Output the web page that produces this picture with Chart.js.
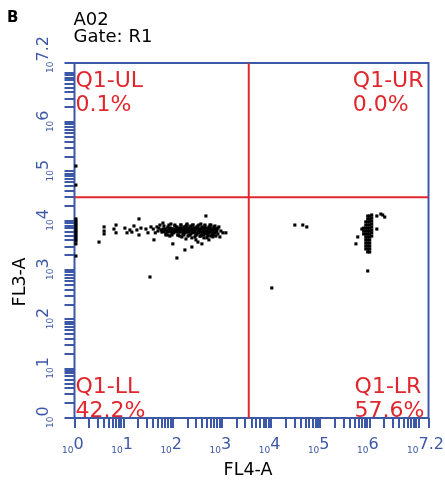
<!DOCTYPE html>
<html>
<head>
<meta charset="utf-8">
<script src="https://cdn.jsdelivr.net/npm/chart.js@4.4.0/dist/chart.umd.min.js"></script>
<style>
  html, body { margin: 0; padding: 0; background: #fff; }
</style>
</head>
<body>
<canvas id="myChart" width="445" height="481"></canvas>
<script>
// labels
const panelLetter = 'B';
const sampleName = 'A02';
const gateName = 'Gate: R1';
const xTitle = 'FL4-A';
const yTitle = 'FL3-A';

// quadrant gate (FL4-A, FL3-A)
const gateX = 3500;
const gateY = 30000;
const quadNames = ['Q1-UL', 'Q1-UR', 'Q1-LL', 'Q1-LR'];
const quadPercents = ['0.1%', '0.0%', '42.2%', '57.6%'];

// axis range and decade labels (10^n)
const axisMin = 1;
const axisMax = Math.pow(10, 7.2);
const decadeLabels = ['0', '1', '2', '3', '4', '5', '6', '7.2'];
const minorSteps = [1, 2, 3, 4, 5, 6, 7, 8, 9];

// events piled on the FL4-A axis
const pileX = [1.07, 1.07, 1.07, 1.07, 1.07, 1.07, 1.07, 1.07,
               1.07, 1.07, 1.07, 1.07, 1.07, 1.07, 1.07, 1.07];
const pileY = [129000, 53000, 10900, 9900, 9000, 8200, 7500, 6800,
               6200, 5700, 5150, 4700, 4280, 3900, 3400, 1930];

// FL4-A low population
const lowX = [
  3.15, 4.0, 4.0, 4.0, 6.35, 7.0, 7.0, 10.6, 11.7, 13.4,
  14.7, 16.2, 18.6, 20.5, 22.5, 20.5, 28.4, 31.2, 35.9, 34.3,
  41.3, 47.5, 49.8, 54.7, 60, 63, 69, 72.4, 79.4, 83.3,
  87, 91.5, 96, 100, 105, 110, 116, 121, 127, 133,
  139, 146, 153, 160, 168, 176, 176, 185, 194, 203,
  212, 223, 233, 244, 244, 256, 268, 281, 295, 309,
  324, 324, 339, 355, 372, 390, 390, 409, 429, 449,
  471, 471, 493, 517, 542, 568, 594, 623, 653, 684,
  718, 752, 826, 865, 906, 950, 1043, 1200,
  96, 110, 121, 127, 139, 146, 160, 168, 185, 194,
  203, 212, 223, 233, 256, 268, 281, 295, 309, 339,
  355, 372, 390, 409, 429, 449, 471, 493, 517, 542,
  568, 594, 623, 653, 718, 752, 787, 826, 244, 185,
  295, 542, 40, 44, 52, 58, 66, 75, 80, 90,
  63, 72.4, 83.3, 96, 110, 127, 146, 168, 194, 223,
  256, 295, 339, 390, 449, 517, 594, 684, 787,
  72.4, 96, 127, 168, 223, 295, 390, 517, 684,
  83.3, 110, 146, 194, 256, 339, 449, 594,
  66, 79, 91, 105, 121, 139, 160, 185, 212, 244,
  281, 324, 372, 429, 493, 568, 653, 752
];
const lowY = [
  3700, 7500, 6200, 5400, 6800, 8200, 5700, 7100, 5700, 6500,
  5900, 7850, 6500, 10900, 7100, 5150, 6800, 5700, 7500, 724,
  4100, 7500, 6200, 8200, 5900, 9000, 6800, 5400, 7500, 6200,
  4900, 8600, 6800, 3400, 5700, 7850, 6500, 1760, 5150, 7100,
  5900, 8200, 4700, 6500, 7500, 5700, 2560, 6800, 8600, 4900,
  6200, 7500, 5400, 6800, 2940, 8200, 5900, 4700, 7100, 5400,
  7850, 3700, 6500, 4900, 8600, 5900, 3400, 7100, 5150, 7850,
  12500, 6200, 4500, 6800, 5700, 8200, 4900, 6500, 4700, 7500,
  5700, 6800, 5400, 7500, 4700, 6200, 5700, 5700,
  5700, 6200, 7500, 6500, 4900, 7100, 5400, 6500, 7850, 5900,
  7100, 5150, 6500, 7850, 5700, 7100, 6200, 5150, 7500, 5700,
  6800, 4900, 7500, 6200, 4500, 5700, 7100, 5400, 4900, 7500,
  6200, 7100, 5400, 6500, 7850, 4900, 6200, 7100, 4500, 4280,
  4100, 4100, 6800, 5700, 7100, 6500, 7850, 6200, 5150, 7100,
  6800, 6800, 6800, 6800, 6800, 6800, 6800, 6800, 6800, 6800,
  6800, 6800, 6800, 6800, 6800, 6800, 6800, 6800, 6800,
  5150, 5150, 5150, 5150, 5150, 5150, 5150, 5150, 5150,
  8200, 8200, 8200, 8200, 8200, 8200, 8200, 8200,
  6000, 6000, 6000, 6000, 6000, 6000, 6000, 6000, 6000, 6000,
  6000, 6000, 6000, 6000, 6000, 6000, 6000, 6000
];

// FL4-A high population
const highX = [
  920000, 920000, 920000, 920000, 920000, 920000, 920000, 920000, 920000, 920000, 920000, 920000, 920000,
  1010000, 1010000, 1010000, 1010000, 1010000, 1010000, 1010000, 1010000, 1010000, 1010000, 1010000, 1010000, 1010000,
  840000, 840000, 840000, 840000, 840000, 840000, 840000, 840000, 840000, 840000,
  1110000, 1110000, 1110000, 1110000, 1110000, 1110000, 1110000, 1110000,
  760000, 760000, 760000, 700000,
  1410000, 1700000, 1860000, 2040000,
  1410000, 577000, 530000, 920000,
  30300, 44000, 53000, 10300
];
const highY = [
  12500, 10900, 9500, 8200, 7100, 6200, 5400, 4700, 4100, 3550, 3080, 2680, 2330,
  12500, 10900, 9500, 8200, 7100, 6200, 5400, 4700, 4100, 3550, 3080, 2680, 2330,
  9500, 8200, 7100, 6200, 5400, 4700, 4100, 3550, 3080, 2680,
  13100, 11400, 9900, 8600, 7500, 6500, 5700, 4900,
  7100, 6200, 5400, 6800,
  12500, 13700, 13100, 11900,
  6800, 4700, 3400, 960,
  8200, 8200, 7500, 434
];

const blue = '#3d58a6';
const red = '#e1262d';
const fontFam = '"DejaVu Sans", sans-serif';

const toPts = (xs, ys) => xs.map((v, i) => ({x: v, y: ys[i]}));
const events = toPts(pileX, pileY).concat(toPts(lowX, lowY), toPts(highX, highY));

// tick marks: every 1..9 x 10^n, plus the top end
const tickValues = [];
for (let n = 0; n <= 7; n++) {
  minorSteps.forEach(k => {
    const v = k * Math.pow(10, n);
    if (v <= axisMax) tickValues.push(v);
  });
}
tickValues.push(axisMax);

function setTicks(scale) {
  scale.ticks = tickValues.map(v => ({value: v}));
}

const tickGrid = {
  drawOnChartArea: false,
  drawTicks: true,
  tickLength: 10,
  color: blue,
  lineWidth: 2
};

const fcsDecor = {
  id: 'fcsDecor',
  beforeDatasetsDraw(chart) {
    const {ctx, chartArea: a} = chart;
    ctx.save();
    ctx.strokeStyle = blue;
    ctx.lineWidth = 2;
    ctx.strokeRect(a.left, a.top, a.right - a.left, a.bottom - a.top);
    ctx.restore();
  },
  afterDatasetsDraw(chart) {
    const {ctx, chartArea: a, scales} = chart;
    const W = chart.width;
    ctx.save();
    ctx.textBaseline = 'alphabetic';

    // decade labels
    ctx.fillStyle = blue;
    decadeLabels.forEach(e => {
      const v = Math.pow(10, parseFloat(e));
      const px = scales.x.getPixelForValue(v);
      ctx.font = '16px ' + fontFam;
      const we = ctx.measureText(e).width;
      const bx = Math.min(px - 1, W - 1 - we);
      ctx.textAlign = 'left';
      ctx.fillText(e, bx, a.bottom + 31);
      ctx.font = '9px ' + fontFam;
      ctx.textAlign = 'right';
      ctx.fillText('10', bx, a.bottom + 35);

      const py = scales.y.getPixelForValue(v);
      ctx.save();
      ctx.translate(a.left, py);
      ctx.rotate(-Math.PI / 2);
      ctx.font = '16px ' + fontFam;
      ctx.textAlign = 'left';
      ctx.fillText(e, 1.5, -27);
      ctx.font = '9px ' + fontFam;
      ctx.textAlign = 'right';
      ctx.fillText('10', 1.5, -22);
      ctx.restore();
    });

    // quadrant stats
    ctx.fillStyle = red;
    ctx.font = '22px ' + fontFam;
    ctx.textAlign = 'left';
    const blockW = i => Math.max(ctx.measureText(quadNames[i]).width, ctx.measureText(quadPercents[i]).width);
    const spots = [
      [a.left + 1, a.top + 23.5],
      [a.right - 5 - blockW(1), a.top + 23.5],
      [a.left + 1, a.bottom - 25],
      [a.right - 4 - blockW(3), a.bottom - 25]
    ];
    spots.forEach((s, i) => {
      ctx.fillText(quadNames[i], s[0], s[1]);
      ctx.fillText(quadPercents[i], s[0], s[1] + 24);
    });

    // titles
    ctx.fillStyle = '#000';
    ctx.font = 'bold 15px ' + fontFam;
    ctx.fillText(panelLetter, 7, 22);
    ctx.font = '18px ' + fontFam;
    ctx.fillText(sampleName, a.left - 1, 25);
    ctx.fillText(gateName, a.left - 1, 42);
    ctx.font = '17.5px ' + fontFam;
    ctx.textAlign = 'center';
    ctx.fillText(xTitle, 248, a.bottom + 57);
    ctx.save();
    ctx.translate(25, 282);
    ctx.rotate(-Math.PI / 2);
    ctx.fillText(yTitle, 0, 0);
    ctx.restore();
    ctx.restore();
  }
};

const data = {
  datasets: [
    {
      type: 'line',
      data: [{x: gateX, y: axisMin}, {x: gateX, y: axisMax}],
      borderColor: red,
      borderWidth: 2,
      pointRadius: 0
    },
    {
      type: 'line',
      data: [{x: axisMin, y: gateY}, {x: axisMax, y: gateY}],
      borderColor: red,
      borderWidth: 2,
      pointRadius: 0
    },
    {
      data: events,
      backgroundColor: '#000',
      borderWidth: 0,
      pointStyle: 'rect',
      pointRadius: 2.2,
      pointHoverRadius: 2.2,
      clip: false
    }
  ]
};

const config = {
  type: 'scatter',
  data: data,
  options: {
    responsive: false,
    animation: false,
    devicePixelRatio: 1,
    layout: { padding: { top: 63, right: 16.5, left: 0, bottom: 0 } },
    plugins: { legend: { display: false }, tooltip: { enabled: false } },
    scales: {
      x: {
        type: 'logarithmic',
        position: 'bottom',
        min: axisMin,
        max: axisMax,
        afterBuildTicks: setTicks,
        afterFit: s => { s.height = 63; },
        ticks: { display: false },
        grid: tickGrid,
        border: { display: false }
      },
      y: {
        type: 'logarithmic',
        position: 'left',
        min: axisMin,
        max: axisMax,
        afterBuildTicks: setTicks,
        afterFit: s => { s.width = 74.5; },
        ticks: { display: false },
        grid: tickGrid,
        border: { display: false }
      }
    }
  },
  plugins: [fcsDecor]
};

const myChart = new Chart(document.getElementById('myChart'), config);
</script>
</body>
</html>
